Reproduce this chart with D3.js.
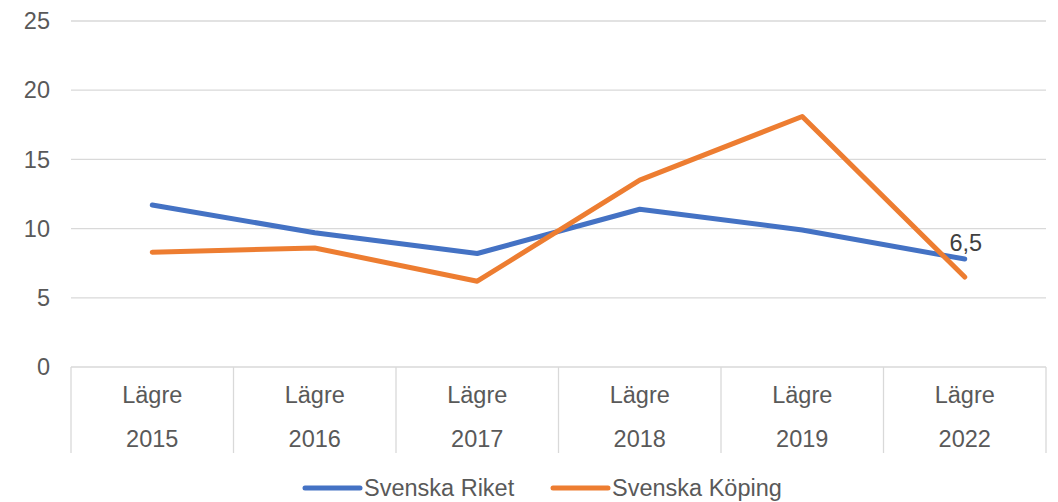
<!DOCTYPE html>
<html>
<head>
<meta charset="utf-8">
<script src="https://cdn.jsdelivr.net/npm/d3@7.9.0/dist/d3.min.js"></script>
<style>
  body { margin: 0; background: #fff; }
  svg { font-family: "Liberation Sans", Arial, sans-serif; }
</style>
</head>
<body>
<svg id="chart" width="1058" height="502"></svg>
<script>
// --- data ---
const years = ["2015", "2016", "2017", "2018", "2019", "2022"];
const groupLabel = "Lägre";
const riket = [11.7, 9.7, 8.2, 11.4, 9.9, 7.8];
const koping = [8.3, 8.6, 6.2, 13.5, 18.1, 6.5];
const yTicks = [0, 5, 10, 15, 20, 25];

const series = [
  { name: "Svenska Riket", values: riket, color: "#4472C4" },
  { name: "Svenska Köping", values: koping, color: "#ED7D31" }
];

const FS = "23.5px";
const svg = d3.select("#chart");
const margin = { top: 21, right: 12, bottom: 135, left: 71 };
const W = 1058, H = 502;
const innerW = W - margin.left - margin.right;
const innerH = H - margin.top - margin.bottom;
const g = svg.append("g").attr("transform", `translate(${margin.left},${margin.top})`);

const x = d3.scaleBand().domain(years).range([0, innerW]).padding(0);
const y = d3.scaleLinear().domain([0, 25]).range([innerH, 0]);

// gridlines
g.selectAll(".grid")
  .data(yTicks)
  .join("line")
  .attr("x1", 0).attr("x2", innerW)
  .attr("y1", d => y(d)).attr("y2", d => y(d))
  .attr("stroke", "#d9d9d9").attr("stroke-width", 1.3);

// y labels
g.selectAll(".ylab")
  .data(yTicks)
  .join("text")
  .attr("x", -21).attr("y", d => y(d))
  .attr("dy", "0.35em")
  .attr("text-anchor", "end")
  .attr("fill", "#595959")
  .style("font-size", FS)
  .text(d => d);

// category axis with two-level labels
const bounds = years.map(d => x(d)).concat([innerW]);
g.selectAll(".tick")
  .data(bounds)
  .join("line")
  .attr("x1", d => d).attr("x2", d => d)
  .attr("y1", innerH).attr("y2", innerH + 86)
  .attr("stroke", "#d9d9d9").attr("stroke-width", 1.3);

g.selectAll(".lvl1")
  .data(years)
  .join("text")
  .attr("x", d => x(d) + x.bandwidth() / 2)
  .attr("y", innerH + 36)
  .attr("text-anchor", "middle")
  .attr("fill", "#595959")
  .style("font-size", FS)
  .text(groupLabel);

g.selectAll(".lvl2")
  .data(years)
  .join("text")
  .attr("x", d => x(d) + x.bandwidth() / 2)
  .attr("y", innerH + 80)
  .attr("text-anchor", "middle")
  .attr("fill", "#595959")
  .style("font-size", FS)
  .text(d => d);

// lines
const line = d3.line()
  .x((d, i) => x(years[i]) + x.bandwidth() / 2)
  .y(d => y(d));

g.selectAll(".series")
  .data(series)
  .join("path")
  .attr("d", d => line(d.values))
  .attr("fill", "none")
  .attr("stroke", d => d.color)
  .attr("stroke-width", 5)
  .attr("stroke-linejoin", "round")
  .attr("stroke-linecap", "round");

// data label on last Köping point
const last = koping.length - 1;
g.append("text")
  .attr("x", x(years[last]) + x.bandwidth() / 2 + 1)
  .attr("y", y(koping[last]) - 26)
  .attr("text-anchor", "middle")
  .attr("fill", "#404040")
  .style("font-size", FS)
  .text(String(koping[last]).replace(".", ","));

// legend
const legendPos = [305, 553];
const legend = svg.selectAll(".legend")
  .data(series)
  .join("g")
  .attr("transform", (d, i) => `translate(${legendPos[i]},488)`);
legend.append("line")
  .attr("x1", 0).attr("x2", 55)
  .attr("stroke", d => d.color)
  .attr("stroke-width", 5)
  .attr("stroke-linecap", "round");
legend.append("text")
  .attr("x", 59).attr("dy", "0.35em")
  .attr("fill", "#595959")
  .style("font-size", FS)
  .text(d => d.name);
</script>
</body>
</html>
